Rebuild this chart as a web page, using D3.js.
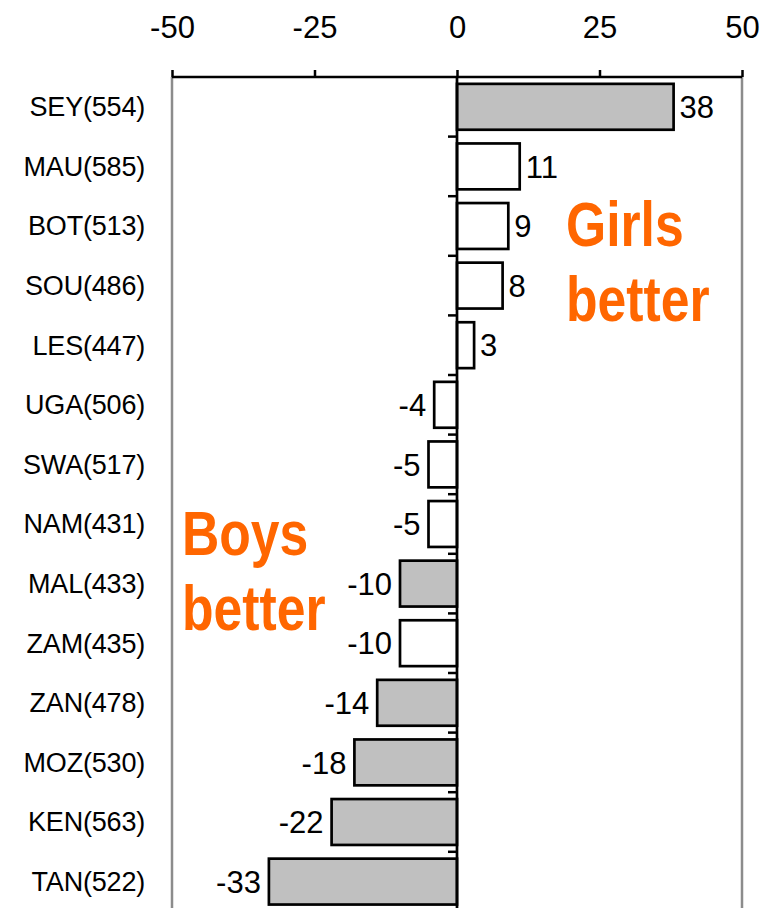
<!DOCTYPE html>
<html>
<head>
<meta charset="utf-8">
<script src="https://cdn.jsdelivr.net/npm/d3@7"></script>
<style>
  body { margin: 0; background: #fff; }
  svg { display: block; font-family: "Liberation Sans", Arial, sans-serif; }
</style>
</head>
<body>
<svg width="773" height="908"></svg>
<script>
// data
var countries = ['SEY', 'MAU', 'BOT', 'SOU', 'LES', 'UGA', 'SWA', 'NAM', 'MAL', 'ZAM', 'ZAN', 'MOZ', 'KEN', 'TAN'];
var means = [554, 585, 513, 486, 447, 506, 517, 431, 433, 435, 478, 530, 563, 522];
var diffs = [38, 11, 9, 8, 3, -4, -5, -5, -10, -10, -14, -18, -22, -33];
var shaded = [true, false, false, false, false, false, false, false, true, false, true, true, true, true];
var xTicks = [-50, -25, 0, 25, 50];

var rows = countries.map((c, i) => ({
    name: c + '(' + means[i] + ')',
    value: diffs[i],
    shaded: shaded[i]
}));

var width = 773;
var height = 908;
var axisY = 77;

var svg = d3.select('svg');

// scales
var xScale = d3.scaleLinear()
    .domain([-50, 50])
    .range([172, 742]);
var yScale = d3.scaleBand()
    .domain(rows.map(d => d.name))
    .range([axisY, axisY + 14 * 59.6])
    .paddingInner(0.23)
    .paddingOuter(0.115);

// grey frame lines at the ends
svg.selectAll('line.frame')
    .data([-50, 50])
    .enter().append('line')
    .attr('class', 'frame')
    .attr('x1', d => xScale(d))
    .attr('x2', d => xScale(d))
    .attr('y1', axisY)
    .attr('y2', height)
    .attr('stroke', '#8c8c8c')
    .attr('stroke-width', 2.5);

// bars
svg.selectAll('rect')
    .data(rows)
    .enter().append('rect')
    .attr('x', d => xScale(Math.min(0, d.value)))
    .attr('y', d => yScale(d.name))
    .attr('width', d => Math.abs(xScale(d.value) - xScale(0)))
    .attr('height', yScale.bandwidth())
    .attr('fill', d => d.shaded ? '#c0c0c0' : '#fff')
    .attr('stroke', '#000')
    .attr('stroke-width', 2.7);

// top axis
var xAxis = d3.axisTop(xScale)
    .tickValues(xTicks)
    .tickSize(7)
    .tickPadding(32)
    .tickFormat(d => String(d));
var gx = svg.append('g')
    .attr('transform', 'translate(' + [0, axisY] + ')')
    .call(xAxis);
gx.select('.domain').attr('stroke-width', 2.5).attr('d', 'M' + xScale(-50) + ',0H' + xScale(50));
gx.selectAll('.tick line').attr('stroke-width', 2.5);
gx.selectAll('.tick text')
    .attr('font-size', 31)
    .attr('font-family', '"Liberation Sans", Arial, sans-serif')
    .attr('fill', '#000');

// zero line
var yAxis = d3.axisLeft(yScale)
    .tickSize(0)
    .tickPadding(0)
    .tickFormat('');
var gy = svg.append('g')
    .attr('transform', 'translate(' + [xScale(0), 0] + ')')
    .call(yAxis);
gy.select('.domain').attr('d', 'M0,' + axisY + 'V' + height).attr('stroke-width', 2.7);

// small ticks between categories
var step = yScale.step();
svg.selectAll('line.cat')
    .data(rows.slice(1))
    .enter().append('line')
    .attr('class', 'cat')
    .attr('x1', xScale(0) - 9)
    .attr('x2', xScale(0))
    .attr('y1', d => yScale(d.name) - step * 0.23 / 2)
    .attr('y2', d => yScale(d.name) - step * 0.23 / 2)
    .attr('stroke', '#000')
    .attr('stroke-width', 2.5);

// category labels
svg.selectAll('text.cat')
    .data(rows)
    .enter().append('text')
    .attr('class', 'cat')
    .attr('x', 145)
    .attr('y', d => yScale(d.name) + yScale.bandwidth() / 2)
    .attr('dy', '0.35em')
    .attr('text-anchor', 'end')
    .attr('font-size', 27)
    .attr('letter-spacing', -0.2)
    .text(d => d.name);

// value labels
svg.selectAll('text.val')
    .data(rows)
    .enter().append('text')
    .attr('class', 'val')
    .attr('x', d => d.value >= 0 ? xScale(d.value) + 6 : xScale(d.value) - 8)
    .attr('y', d => yScale(d.name) + yScale.bandwidth() / 2)
    .attr('dy', '0.36em')
    .attr('text-anchor', d => d.value >= 0 ? 'start' : 'end')
    .attr('font-size', 31)
    .text(d => d.value);

// annotations
var notes = [
    {lines: ['Girls', 'better'], x: 566, y: 246},
    {lines: ['Boys', 'better'], x: 182, y: 555}
];
notes.forEach(n => {
    n.lines.forEach((t, i) => {
        svg.append('text')
            .attr('transform', 'translate(' + [n.x, n.y + i * 75] + ') scale(0.82,1)')
            .attr('font-size', 63)
            .attr('font-weight', 'bold')
            .attr('fill', '#ff6600')
            .text(t);
    });
});
</script>
</body>
</html>
